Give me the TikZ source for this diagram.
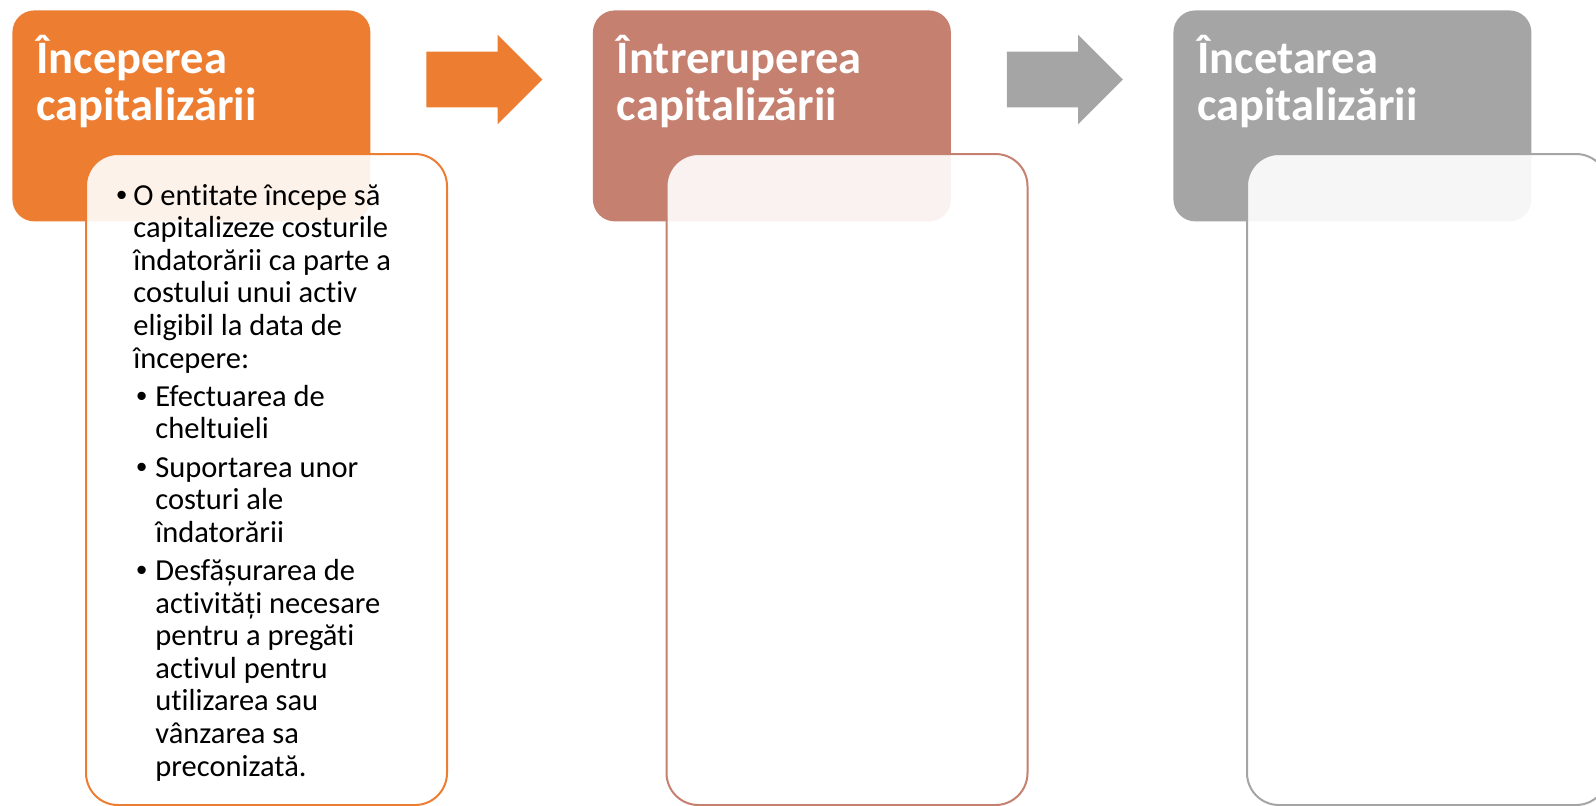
\documentclass[tikz,border=0pt]{standalone}
\usepackage{fontspec}
\setmainfont{Carlito}[Ligatures=NoCommon]
\newfontfamily\bulletfont{Liberation Sans}
\usetikzlibrary{positioning,shapes.arrows}
\definecolor{stageOrange}{HTML}{ED7D31}
\definecolor{stageRose}{HTML}{C5806F}
\definecolor{stageGray}{HTML}{A5A5A5}
% bullets of the first and second level, lines broken by \newline
\newcommand{\pointA}[1]{\hangindent=8.5pt\hangafter=1\noindent\makebox[8.5pt][l]{\bulletfont •}#1\par}
\newcommand{\pointB}[1]{\hangindent=19.5pt\hangafter=1\noindent\hspace*{10pt}\makebox[9.5pt][l]{\bulletfont •}#1\par}
\tikzset{
    % Header of a stage (coloured, rounded)
    stage/.style={rectangle, draw=none, rounded corners=11pt, anchor=north west,
                  minimum width=179pt, minimum height=105.5pt, inner sep=0pt},
    stagetitle/.style={anchor=base west, inner sep=0pt, text=white,
                  text width=170pt, align=left,
                  font=\bfseries\fontsize{23.25pt}{23.5pt}\selectfont},
    % White box with the details of a stage
    detail/.style={rectangle, rounded corners=16pt, anchor=north west,
                  fill=white, fill opacity=0.9, line width=1pt,
                  minimum width=180.5pt, minimum height=325.5pt, inner sep=0pt},
    bodytext/.style={anchor=base west, inner sep=0pt, text width=160pt, align=left,
                  font=\fontsize{15.25pt}{16.3pt}\selectfont},
    % Block arrow between two stages
    flow/.style={single arrow, draw=none, anchor=tail, inner xsep=0pt, inner ysep=13.75pt,
                  minimum height=58pt, single arrow head extend=8.5pt,
                  single arrow tip angle=90}
}
\begin{document}
\begin{tikzpicture}[x=0.5pt,y=-0.5pt]
    % Frame
    \clip (0,0) rectangle (1596,805);

    % Headers
    \node[stage, fill=stageOrange] (stageA) at (12,10) {};
    \node[stage, fill=stageRose] (stageB) at (592.5,10) {};
    \node[stage, fill=stageGray] (stageC) at (1173,10) {};

    % Titles
    \node[stagetitle] (titleA) at (36,73) {Începerea\newline capitalizării};
    \node[stagetitle] (titleB) at (616.5,73) {Întreruperea\newline capitalizării};
    \node[stagetitle] (titleC) at (1197,73) {Încetarea\newline capitalizării};

    % Arrows
    \node[flow, fill=stageOrange] (flowAB) at (426,79.5) {};
    \node[flow, fill=stageGray] (flowBC) at (1006.5,79.5) {};

    % Detail boxes
    \node[detail, draw=stageOrange] (detailA) at (85,153) {};
    \node[detail, draw=stageRose] (detailB) at (665.5,153) {};
    \node[detail, draw=stageGray] (detailC) at (1246,153) {};

    % Text of the first box
    \node[bodytext] (textA) at (116,205) {\setlength{\parskip}{2.8pt}\spaceskip=3.45pt\relax
        \pointA{O entitate începe să\newline capitalizeze costurile\newline îndatorării ca parte a\newline costului unui activ\newline eligibil la data de\newline începere:}%
        \pointB{Efectuarea de\newline cheltuieli}%
        \pointB{Suportarea unor\newline costuri ale\newline îndatorării}%
        \pointB{Desfășurarea de\newline activități necesare\newline pentru a pregăti\newline activul pentru\newline utilizarea sau\newline vânzarea sa\newline preconizată.}};
\end{tikzpicture}
\end{document}
